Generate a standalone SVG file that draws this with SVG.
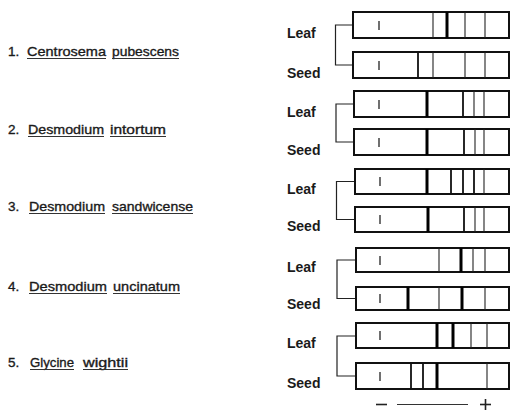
<svg xmlns="http://www.w3.org/2000/svg" width="510" height="413" viewBox="0 0 510 413">
  <style>
    .bg { fill: #ffffff; }
    .box { fill: #ffffff; stroke: #111; stroke-width: 2; }
    .thin { stroke: #222; stroke-width: 1.1; }
    .med { stroke: #111; stroke-width: 1.8; }
    .thick { stroke: #000; stroke-width: 3; }
    .tick { stroke: #333; stroke-width: 1.4; }
    .bracket { fill: none; stroke: #222; stroke-width: 1.2; }
    .part { font-family: "Liberation Sans", Arial, sans-serif; font-weight: bold; font-size: 14px; fill: #1a1a1a; }
    .species { font-family: "Liberation Sans", Arial, sans-serif; font-size: 13.5px; fill: #1a1a1a; stroke: #1a1a1a; stroke-width: 0.35; }
    .ul { stroke: #333; stroke-width: 1.1; }
    .axis { stroke: #333; stroke-width: 1; }
    .sign { stroke: #222; stroke-width: 1.6; }
  </style>
  <rect class="bg" width="510" height="413"/>

  <!-- species names, each word underlined -->
  <g id="species-1">
    <text class="species" x="8" y="56">1.</text>
    <text class="species" x="27" y="56" textLength="79" lengthAdjust="spacingAndGlyphs">Centrosema</text>
    <text class="species" x="112" y="56" textLength="67" lengthAdjust="spacingAndGlyphs">pubescens</text>
    <line class="ul" x1="27" y1="58.5" x2="106" y2="58.5"/>
    <line class="ul" x1="112" y1="58.5" x2="179" y2="58.5"/>
  </g>
  <g id="species-2">
    <text class="species" x="8" y="134">2.</text>
    <text class="species" x="28" y="134" textLength="76" lengthAdjust="spacingAndGlyphs">Desmodium</text>
    <text class="species" x="110" y="134" textLength="56" lengthAdjust="spacingAndGlyphs">intortum</text>
    <line class="ul" x1="28" y1="136.5" x2="104" y2="136.5"/>
    <line class="ul" x1="110" y1="136.5" x2="166" y2="136.5"/>
  </g>
  <g id="species-3">
    <text class="species" x="8" y="211">3.</text>
    <text class="species" x="29" y="211" textLength="76" lengthAdjust="spacingAndGlyphs">Desmodium</text>
    <text class="species" x="112" y="211" textLength="81" lengthAdjust="spacingAndGlyphs">sandwicense</text>
    <line class="ul" x1="29" y1="213.5" x2="105" y2="213.5"/>
    <line class="ul" x1="112" y1="213.5" x2="193" y2="213.5"/>
  </g>
  <g id="species-4">
    <text class="species" x="8" y="291">4.</text>
    <text class="species" x="29" y="291" textLength="78" lengthAdjust="spacingAndGlyphs">Desmodium</text>
    <text class="species" x="113" y="291" textLength="67" lengthAdjust="spacingAndGlyphs">uncinatum</text>
    <line class="ul" x1="29" y1="293.5" x2="107" y2="293.5"/>
    <line class="ul" x1="113" y1="293.5" x2="180" y2="293.5"/>
  </g>
  <g id="species-5">
    <text class="species" x="8" y="367">5.</text>
    <text class="species" x="30" y="367" textLength="44" lengthAdjust="spacingAndGlyphs">Glycine</text>
    <text class="species" x="83" y="367" textLength="45" lengthAdjust="spacingAndGlyphs">wightii</text>
    <line class="ul" x1="30" y1="369.5" x2="74" y2="369.5"/>
    <line class="ul" x1="83" y1="369.5" x2="128" y2="369.5"/>
  </g>

  <!-- brackets joining each leaf/seed pair -->
  <g id="connectors">
    <polyline class="bracket" points="353,25 335.5,25 335.5,65 353,65"/>
    <polyline class="bracket" points="354,104 336,104 336,142 354,142"/>
    <polyline class="bracket" points="355,181.5 336.5,181.5 336.5,219.5 355,219.5"/>
    <polyline class="bracket" points="356,260 337,260 337,298.5 356,298.5"/>
    <polyline class="bracket" points="356,336 337,336 337,376 356,376"/>
  </g>

  <!-- 1. Centrosema pubescens -->
  <g id="leaf-1">
    <text class="part" x="287" y="38">Leaf</text>
    <rect class="box" x="353" y="12" width="156" height="26"/>
    <line class="tick" x1="379" y1="21" x2="379" y2="30"/>
    <line class="thin" x1="433" y1="12" x2="433" y2="38"/>
    <line class="thick" x1="447" y1="12" x2="447" y2="38"/>
    <line class="thin" x1="465" y1="12" x2="465" y2="38"/>
    <line class="thin" x1="485" y1="12" x2="485" y2="38"/>
  </g>
  <g id="seed-1">
    <text class="part" x="287" y="78">Seed</text>
    <rect class="box" x="353" y="52" width="156" height="26"/>
    <line class="tick" x1="379" y1="61" x2="379" y2="70"/>
    <line class="med" x1="418" y1="52" x2="418" y2="78"/>
    <line class="thin" x1="433" y1="52" x2="433" y2="78"/>
    <line class="thin" x1="465" y1="52" x2="465" y2="78"/>
    <line class="thin" x1="485" y1="52" x2="485" y2="78"/>
  </g>

  <!-- 2. Desmodium intortum -->
  <g id="leaf-2">
    <text class="part" x="287" y="117">Leaf</text>
    <rect class="box" x="354" y="91" width="155" height="26"/>
    <line class="tick" x1="379" y1="100" x2="379" y2="109"/>
    <line class="thick" x1="427" y1="91" x2="427" y2="117"/>
    <line class="med" x1="463" y1="91" x2="463" y2="117"/>
    <line class="thin" x1="474" y1="91" x2="474" y2="117"/>
    <line class="thin" x1="484" y1="91" x2="484" y2="117"/>
  </g>
  <g id="seed-2">
    <text class="part" x="287" y="155">Seed</text>
    <rect class="box" x="354" y="129" width="155" height="26"/>
    <line class="tick" x1="379" y1="138" x2="379" y2="147"/>
    <line class="thick" x1="427" y1="129" x2="427" y2="155"/>
    <line class="med" x1="464" y1="129" x2="464" y2="155"/>
    <line class="thin" x1="475" y1="129" x2="475" y2="155"/>
    <line class="thin" x1="484" y1="129" x2="484" y2="155"/>
  </g>

  <!-- 3. Desmodium sandwicense -->
  <g id="leaf-3">
    <text class="part" x="287" y="194">Leaf</text>
    <rect class="box" x="355" y="169" width="154" height="25"/>
    <line class="tick" x1="380" y1="177" x2="380" y2="186"/>
    <line class="thick" x1="427" y1="169" x2="427" y2="194"/>
    <line class="med" x1="451" y1="169" x2="451" y2="194"/>
    <line class="med" x1="463" y1="169" x2="463" y2="194"/>
    <line class="med" x1="474" y1="169" x2="474" y2="194"/>
    <line class="thin" x1="484" y1="169" x2="484" y2="194"/>
  </g>
  <g id="seed-3">
    <text class="part" x="287" y="231">Seed</text>
    <rect class="box" x="355" y="207" width="154" height="25"/>
    <line class="tick" x1="380" y1="215" x2="380" y2="224"/>
    <line class="thick" x1="428" y1="207" x2="428" y2="232"/>
    <line class="med" x1="464" y1="207" x2="464" y2="232"/>
    <line class="thin" x1="475" y1="207" x2="475" y2="232"/>
    <line class="thin" x1="484" y1="207" x2="484" y2="232"/>
  </g>

  <!-- 4. Desmodium uncinatum -->
  <g id="leaf-4">
    <text class="part" x="287" y="272">Leaf</text>
    <rect class="box" x="356" y="248" width="153" height="24"/>
    <line class="tick" x1="380" y1="256" x2="380" y2="265"/>
    <line class="thin" x1="439" y1="248" x2="439" y2="272"/>
    <line class="thick" x1="461" y1="248" x2="461" y2="272"/>
    <line class="thin" x1="473" y1="248" x2="473" y2="272"/>
    <line class="thin" x1="485" y1="248" x2="485" y2="272"/>
  </g>
  <g id="seed-4">
    <text class="part" x="287" y="309">Seed</text>
    <rect class="box" x="356" y="287" width="153" height="23"/>
    <line class="tick" x1="380" y1="294" x2="380" y2="303"/>
    <line class="thick" x1="408" y1="287" x2="408" y2="310"/>
    <line class="thin" x1="439" y1="287" x2="439" y2="310"/>
    <line class="thick" x1="462" y1="287" x2="462" y2="310"/>
    <line class="thin" x1="485" y1="287" x2="485" y2="310"/>
  </g>

  <!-- 5. Glycine wightii -->
  <g id="leaf-5">
    <text class="part" x="287" y="348">Leaf</text>
    <rect class="box" x="356" y="323" width="153" height="25"/>
    <line class="tick" x1="380" y1="331" x2="380" y2="340"/>
    <line class="thick" x1="437" y1="323" x2="437" y2="348"/>
    <line class="thick" x1="453" y1="323" x2="453" y2="348"/>
    <line class="thin" x1="471" y1="323" x2="471" y2="348"/>
    <line class="thin" x1="487" y1="323" x2="487" y2="348"/>
  </g>
  <g id="seed-5">
    <text class="part" x="287" y="388">Seed</text>
    <rect class="box" x="356" y="363" width="153" height="26"/>
    <line class="tick" x1="380" y1="372" x2="380" y2="381"/>
    <line class="med" x1="411" y1="363" x2="411" y2="389"/>
    <line class="med" x1="423" y1="363" x2="423" y2="389"/>
    <line class="thick" x1="437" y1="363" x2="437" y2="389"/>
    <line class="thin" x1="487" y1="363" x2="487" y2="389"/>
  </g>

  <!-- polarity axis: cathode to anode -->
  <g id="axis">
    <line class="sign" x1="376" y1="404.5" x2="387" y2="404.5"/>
    <line class="axis" x1="397" y1="404.5" x2="468" y2="404.5"/>
    <line class="sign" x1="480" y1="404.5" x2="491" y2="404.5"/>
    <line class="sign" x1="485.5" y1="399" x2="485.5" y2="410"/>
  </g>
</svg>
